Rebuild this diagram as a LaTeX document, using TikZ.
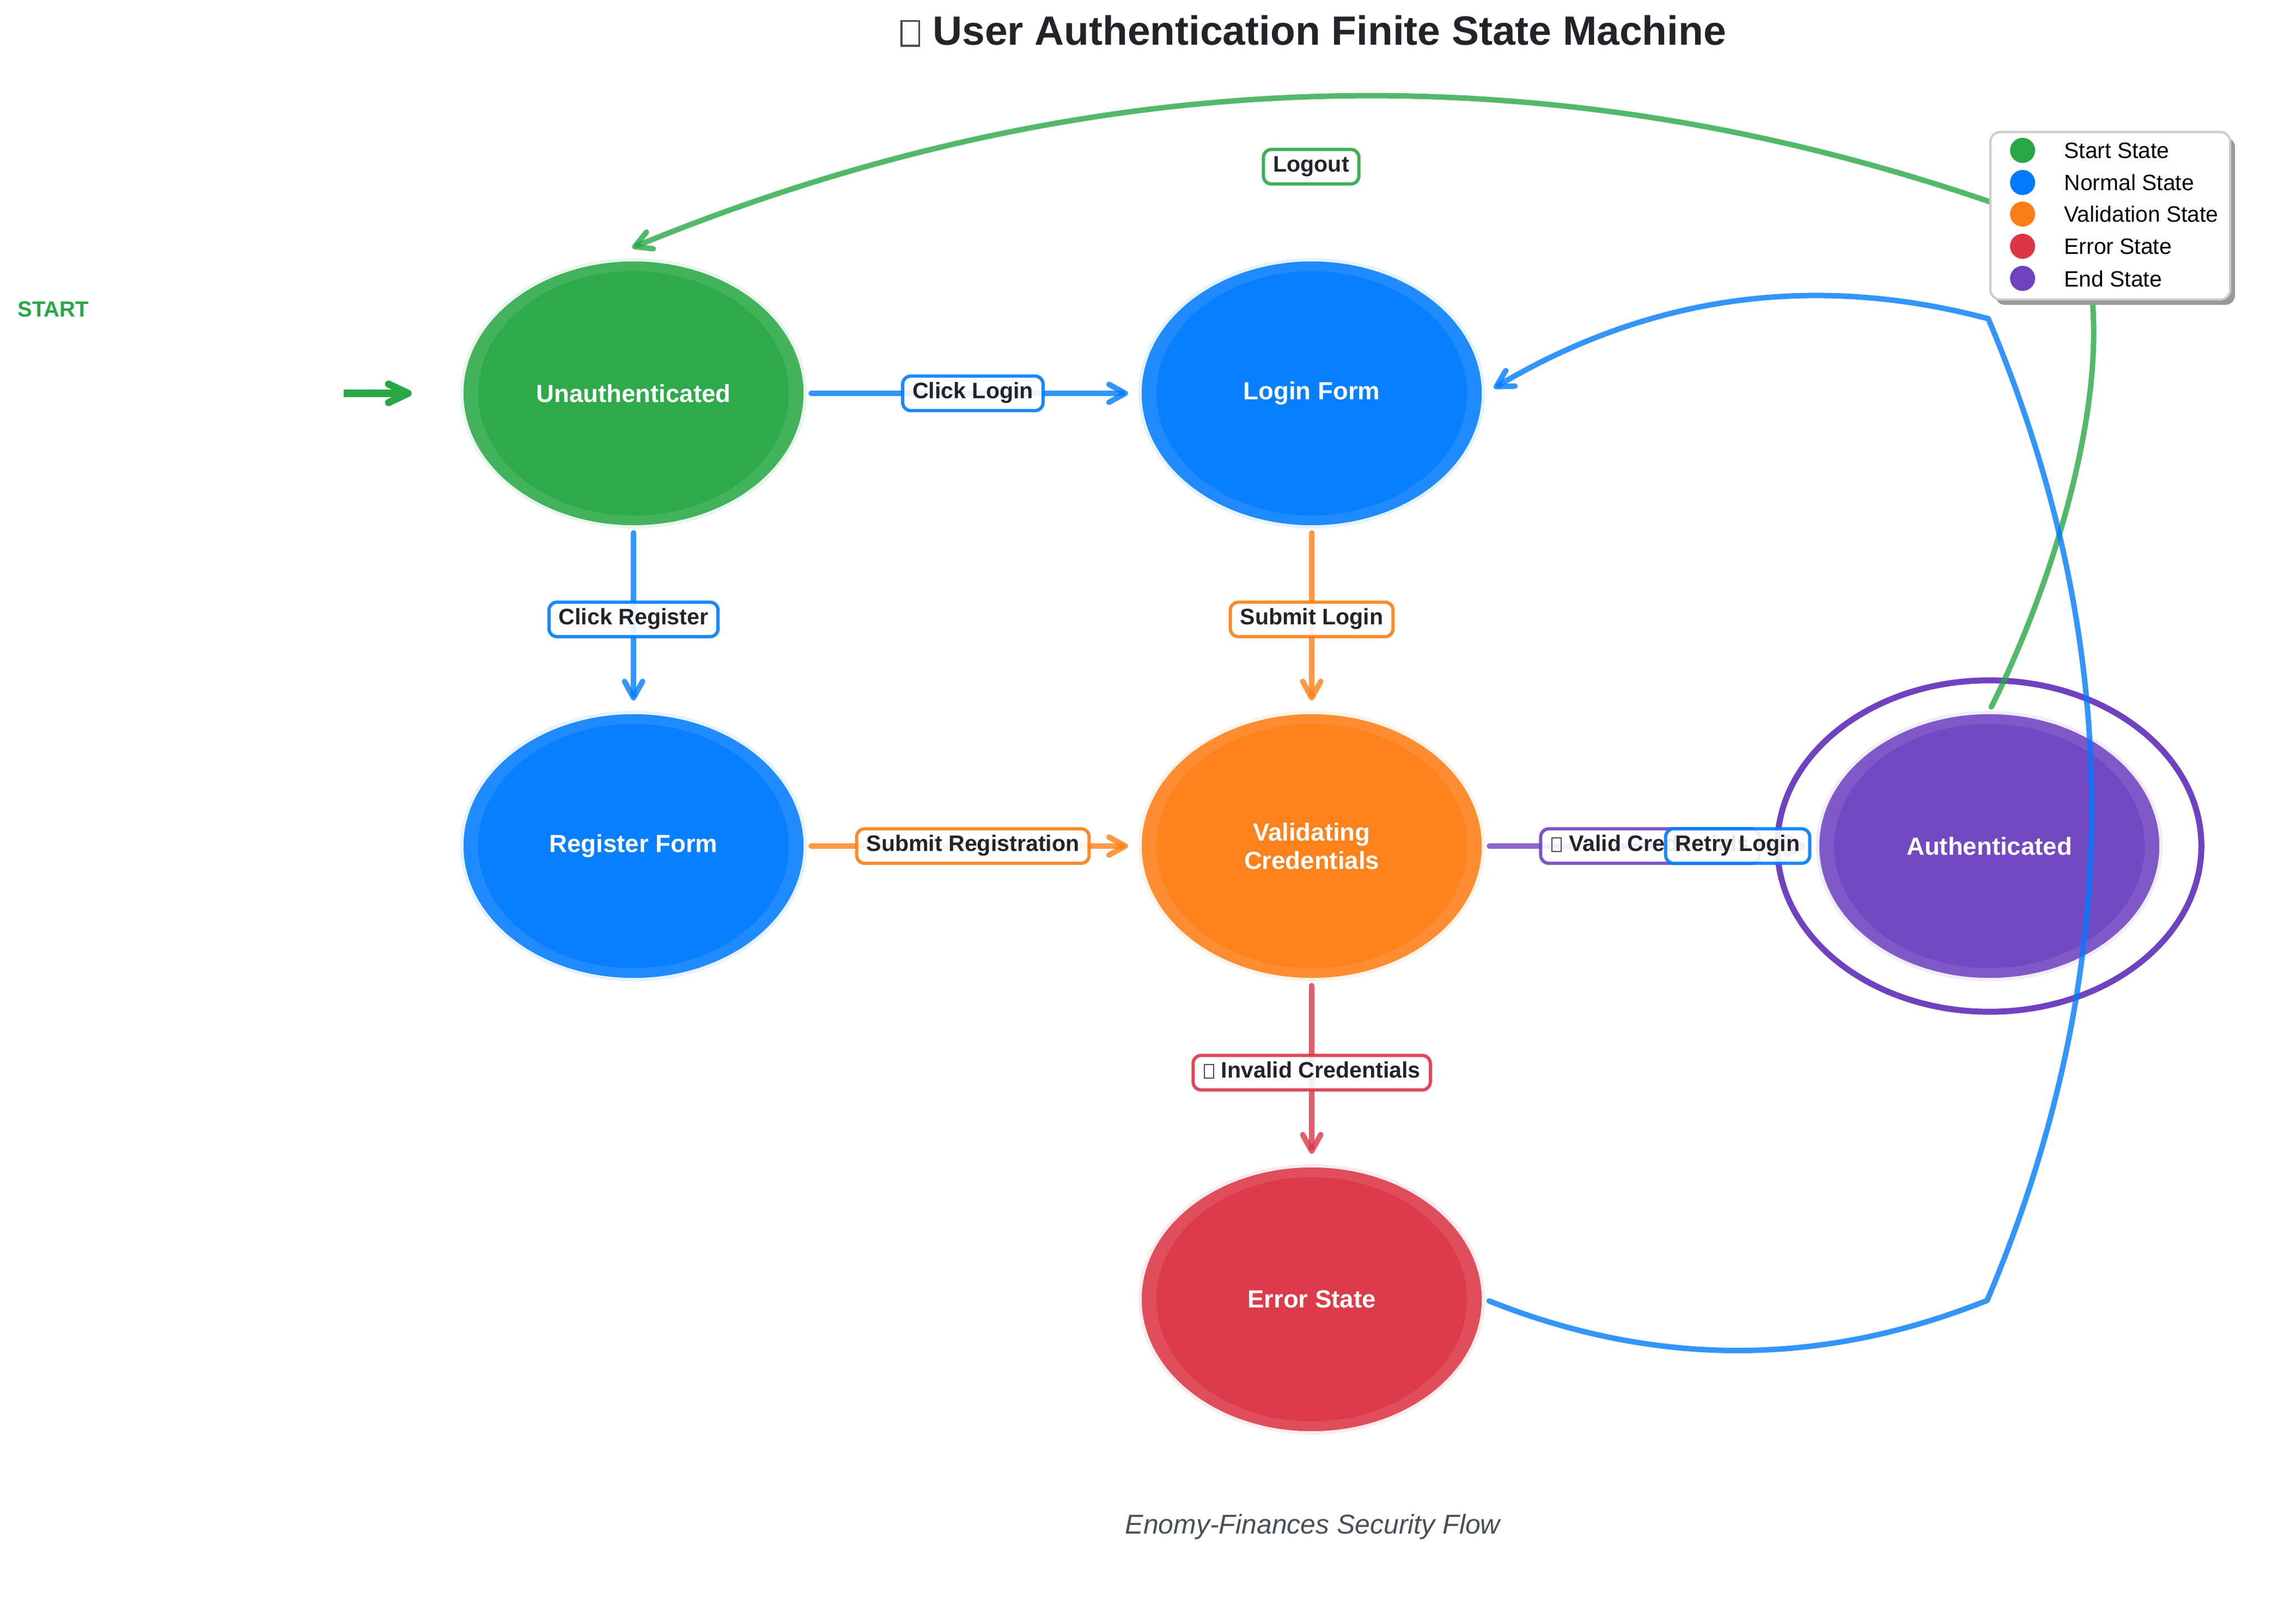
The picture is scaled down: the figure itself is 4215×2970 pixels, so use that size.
\documentclass[tikz,border=0pt]{standalone}
\usepackage{fontspec}
\setmainfont{Liberation Sans}
\usetikzlibrary{shapes.geometric, arrows.meta, shadows}
\definecolor{cgreen}{HTML}{28A745}
\definecolor{cblue}{HTML}{007BFF}
\definecolor{corange}{HTML}{FD7E14}
\definecolor{cred}{HTML}{DC3545}
\definecolor{cpurple}{HTML}{6F42C1}
\definecolor{ctext}{HTML}{212529}
\definecolor{cfoot}{HTML}{495057}
\newcommand{\nodefont}{\fontsize{12.95pt}{14.8pt}\selectfont\bfseries}
\newcommand{\lblfont}{\fontsize{11.7pt}{14pt}\selectfont\bfseries}
\newcommand{\titlefont}{\fontsize{21.3pt}{25pt}\selectfont\bfseries}
\newcommand{\legfont}{\fontsize{11.6pt}{14pt}\selectfont}
\newcommand{\tofubox}{\begingroup\setlength{\fboxsep}{0pt}\setlength{\fboxrule}{0.05em}\hspace{0.03em}\textcolor{black!70}{\fbox{\rule{0pt}{0.56em}\hspace{0.38em}}}\hspace{0.03em}\endgroup}
\begin{document}
\begin{tikzpicture}[x=0.01cm, y=-0.01cm,
  state/.style={ellipse, minimum width=6.30cm, minimum height=4.90cm, inner sep=0pt,
    line width=0.06cm, draw=#1!10!white, fill=#1!88!white, text=white, font=\nodefont, align=center,
    path picture={\fill[#1!97!white] (path picture bounding box.center) ellipse [x radius=2.85cm, y radius=2.24cm];}},
  edge/.style={draw=#1, draw opacity=0.8, line width=0.1cm, line cap=round, line join=round,
    -{Straight Barb[length=0.3cm, width=0.33cm, round]}, shorten <=0.08cm, shorten >=0.19cm},
  lbl/.style={draw=#1, draw opacity=0.9, fill=white, fill opacity=0.9, text opacity=1,
    rounded corners=0.15cm, line width=0.06cm, inner xsep=0.18cm, inner ysep=0.15cm,
    text height=0.74em, text depth=0.21em, font=\lblfont, text=ctext},
  legdot/.style={circle, fill=#1, minimum size=0.46cm, inner sep=0pt},
  legtext/.style={anchor=base west, font=\legfont, text=black, inner sep=0pt}
]
\useasboundingbox (0,0) rectangle (4215,2970);

% states
\node[state=cgreen]  (un)   at (1163,722)  {Unauthenticated};
\node[state=cblue]   (lf)   at (2408,722)  {Login Form};
\node[state=cblue]   (rf)   at (1163,1553) {Register Form};
\node[state=corange] (val)  at (2408,1553) {Validating\\Credentials};
\node[state=cred]    (err)  at (2408,2385) {Error State};
\node[state=cpurple] (auth) at (3652,1553) {Authenticated};
\draw[cpurple, line width=0.11cm] (auth.center) ellipse [x radius=3.89cm, y radius=3.04cm];

% start marker
\node[anchor=west, text=cgreen, font=\fontsize{11.4pt}{13pt}\selectfont\bfseries, inner sep=0pt] (starttxt) at (32,568) {START};
\coordinate (startpt) at (631,722);
\draw[cgreen, line width=0.13cm, -{Straight Barb[length=0.36cm, width=0.34cm, round]}, shorten >=0.89cm] (startpt) -- (un.west);

% waypoints
\coordinate (lk)  at (3815,430);
\coordinate (rw1) at (3648,2387);
\coordinate (rw2) at (3650,585);

% transitions
\draw[edge=cblue]   (un) -- (lf);
\draw[edge=cblue]   (un) -- (rf);
\draw[edge=corange] (lf) -- (val);
\draw[edge=corange] (rf) -- (val);
\draw[edge=cpurple] (val) -- (auth);
\draw[edge=cred]    (val) -- (err);
\draw[edge=cgreen]  (auth.north) .. controls (3780,1050) and (3900,650) .. (lk)
                    .. controls (2930,83) and (2045,92) .. ([shift={(-20,-12)}]un.north);
\draw[edge=cblue]   (err.east) .. controls (3037,2509) and (3341,2510) .. (rw1)
                    .. controls (3903,1786) and (3904,1186) .. (rw2)
                    .. controls (3329,500) and (3028,543) .. (lf.east);

% transition labels
\node[lbl=cblue]   (l1) at (1786,722)  {Click Login};
\node[lbl=cblue]   (l2) at (1163,1137) {Click Register};
\node[lbl=corange] (l3) at (2408,1137) {Submit Login};
\node[lbl=corange] (l4) at (1786,1553) {Submit Registration};
\node[lbl=cred]    (l5) at (2408,1969) {\tofubox\ Invalid Credentials};
\node[lbl=cgreen]  (l6) at (2407,306)  {Logout};
\node[lbl=cpurple] (l7) at (3029,1553) {\tofubox\ Valid Credentials};
\node[lbl=cblue]   (l8) at (3190,1553) {Retry Login};

% legend
\node[draw=black!20, fill=white, line width=0.04cm, rounded corners=0.18cm,
      minimum width=4.40cm, minimum height=3.07cm, inner sep=0pt,
      general shadow={fill=black!40, shadow xshift=0.09cm, shadow yshift=-0.10cm}] (legend) at (3874,396) {};
\node[legdot=cgreen]  (d1) at (3713,276) {};
\node[legdot=cblue]   (d2) at (3713,335) {};
\node[legdot=corange] (d3) at (3713,393) {};
\node[legdot=cred]    (d4) at (3713,452) {};
\node[legdot=cpurple] (d5) at (3713,511) {};
\node[legtext] (t1) at (3789,291) {Start State};
\node[legtext] (t2) at (3789,350) {Normal State};
\node[legtext] (t3) at (3789,408) {Validation State};
\node[legtext] (t4) at (3789,467) {Error State};
\node[legtext] (t5) at (3789,526) {End State};

% title and footer
\node[font=\titlefont, text=ctext, inner sep=0pt] (title) at (2410,57) {\tofubox\ User Authentication Finite State Machine};
\node[anchor=base, font=\fontsize{14.2pt}{17pt}\selectfont\itshape, text=cfoot, inner sep=0pt] (foot) at (2410,2815) {Enomy-Finances Security Flow};
\end{tikzpicture}
\end{document}
